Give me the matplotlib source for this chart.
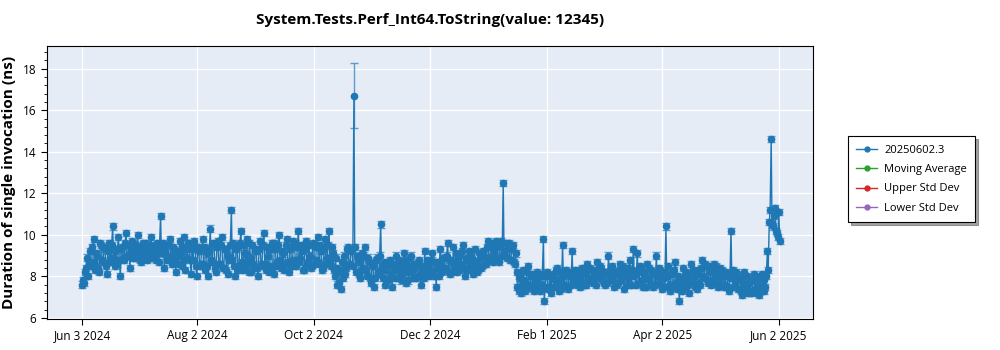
import numpy as np
import pandas as pd
import matplotlib
matplotlib.use("Agg")
from matplotlib import pyplot as plt
from matplotlib.lines import Line2D
from matplotlib.ticker import AutoMinorLocator

plt.rcParams['font.family'] = ['Open Sans', 'DejaVu Sans']

# two runs per day, Jun 3 2024 .. Jun 2 2025 (one row = one week)
run_a = [
    7.6, 7.7, 8.4, 8.0, 9.2, 8.6, 9.8,
    8.3, 9.0, 8.2, 9.5, 8.7, 9.3, 8.1,
    9.6, 8.9, 10.4, 9.2, 8.6, 9.9, 8.0,
    9.4, 8.8, 10.1, 9.0, 8.4, 9.7, 9.1,
    8.9, 10.0, 9.3, 8.7, 9.6, 9.1, 8.8,
    9.4, 9.9, 8.9, 9.2, 9.6, 8.7, 10.9,
    9.1, 8.4, 9.5, 8.9, 9.8, 8.6, 9.3,
    8.2, 9.0, 9.7, 8.5, 9.9, 8.3, 8.9,
    9.6, 8.1, 8.8, 9.4, 8.0, 9.2, 8.6,
    9.8, 8.3, 9.1, 8.0, 10.3, 8.7, 9.5,
    8.2, 9.7, 8.6, 9.9, 8.4, 9.3, 8.1,
    8.8, 11.2, 9.6, 8.0, 9.4, 8.5, 10.2,
    8.3, 9.1, 9.8, 8.2, 8.9, 9.5, 8.4,
    9.2, 8.0, 9.7, 8.6, 10.1, 8.3, 9.0,
    8.5, 9.6, 8.1, 9.3, 8.7, 10.0, 8.4,
    9.1, 8.6, 9.8, 8.2, 9.4, 8.8, 9.6,
    8.5, 10.2, 8.9, 9.2, 8.3, 9.7, 8.7,
    9.0, 8.5, 9.5, 8.8, 9.9, 8.6, 9.2,
    8.4, 9.8, 8.9, 10.2, 8.5, 9.1, 8.0,
    7.6, 8.3, 7.4, 8.7, 9.0, 8.4, 9.4,
    8.6, 9.3, 16.7, 8.2, 8.8, 7.9, 9.1,
    8.4, 9.4, 8.0, 8.7, 7.7, 8.5, 7.9,
    8.9, 8.1, 10.5, 8.6, 7.6, 8.3, 7.8,
    8.8, 7.5, 8.4, 9.0, 7.9, 8.6, 8.1,
    9.1, 7.7, 8.5, 8.2, 9.0, 7.9, 8.4,
    8.0, 8.8, 7.6, 8.5, 9.2, 8.1, 8.6,
    8.3, 9.1, 8.0, 7.5, 8.7, 9.3, 8.2,
    8.9, 8.4, 9.6, 8.1, 8.7, 9.4, 8.5,
    8.2, 9.0, 8.6, 9.5, 8.0, 8.8, 9.2,
    8.4, 8.1, 9.3, 8.7, 8.3, 8.9, 8.5,
    9.0, 8.6, 9.7, 8.8, 9.6, 9.1, 8.9,
    9.4, 8.7, 9.7, 12.5, 9.0, 8.9, 9.6,
    8.8, 9.5, 8.6, 8.2, 7.3, 7.9, 7.6,
    7.8, 7.4, 8.5, 7.5, 8.1, 7.3, 7.7,
    7.4, 8.0, 7.6, 9.8, 7.5, 8.2, 7.5,
    7.2, 8.1, 7.8, 8.4, 7.3, 7.9, 9.5,
    7.6, 8.3, 7.4, 8.0, 9.2, 7.7, 8.2,
    7.9, 7.5, 8.4, 8.1, 7.6, 8.6, 7.8,
    8.3, 7.7, 8.0, 8.7, 7.9, 8.4, 8.1,
    7.6, 8.2, 9.0, 7.8, 8.5, 7.5, 8.1,
    7.7, 8.6, 8.0, 7.4, 8.3, 7.9, 8.8,
    7.6, 9.3, 8.2, 9.1, 7.7, 8.4, 7.5,
    8.0, 8.6, 7.8, 8.3, 7.5, 8.1, 9.0,
    7.7, 8.3, 7.4, 7.9, 10.4, 8.5, 7.3,
    8.2, 7.6, 8.7, 7.4, 6.8, 7.9, 8.4,
    7.5, 8.1, 7.2, 8.6, 7.7, 8.0, 7.4,
    8.3, 7.6, 8.8, 7.9, 8.5, 7.7, 8.2,
    7.8, 8.6, 8.0, 7.5, 8.4, 7.9, 8.2,
    7.6, 8.0, 7.3, 10.2, 8.3, 7.7, 8.1,
    7.4, 7.9, 7.1, 8.2, 7.5, 7.2, 7.8,
    7.3, 8.1, 7.2, 7.6, 8.0, 7.4, 7.8,
    7.5, 9.2, 10.6, 14.6, 10.4, 11.3, 10.1,
    11.1,
]
run_b = [
    7.8, 8.2, 8.9, 8.6, 8.5, 9.4, 8.7,
    9.1, 8.4, 9.6, 8.8, 9.4, 8.5, 9.2,
    8.7, 9.5, 8.9, 8.5, 9.3, 8.8, 9.3,
    8.9, 9.6, 9.0, 9.5, 9.3, 8.9, 9.5,
    9.5, 9.1, 8.8, 9.4, 9.0, 9.6, 9.2,
    8.9, 9.2, 9.5, 8.8, 9.1, 9.4, 9.2,
    9.6, 9.2, 8.8, 9.5, 9.0, 9.4, 8.9,
    9.2, 8.6, 9.1, 9.4, 8.8, 9.3, 9.6,
    8.8, 9.3, 9.7, 8.5, 9.4, 8.5, 9.3,
    8.6, 9.4, 8.5, 9.2, 8.8, 9.6, 8.4,
    9.4, 8.6, 9.5, 8.4, 9.3, 8.3, 9.0,
    9.5, 8.8, 8.5, 9.3, 8.3, 9.6, 8.7,
    9.5, 8.4, 8.7, 9.6, 8.2, 8.6, 9.3,
    8.4, 9.3, 8.5, 9.5, 8.6, 9.4, 8.2,
    9.3, 8.4, 9.6, 8.5, 9.5, 8.8, 9.2,
    8.3, 9.5, 8.7, 9.3, 8.5, 9.7, 8.6,
    9.4, 8.7, 9.5, 8.3, 9.3, 8.6, 9.5,
    8.4, 9.6, 8.6, 9.4, 8.7, 9.5, 8.3,
    9.3, 8.6, 9.5, 8.8, 9.4, 8.3, 8.9,
    8.4, 7.7, 8.2, 7.9, 8.1, 9.3, 8.6,
    9.2, 8.5, 9.4, 9.0, 8.1, 8.7, 8.3,
    9.0, 8.3, 8.9, 7.9, 8.6, 7.5, 8.8,
    8.2, 9.0, 8.4, 7.9, 8.7, 7.8, 8.6,
    8.1, 8.6, 7.9, 8.3, 8.8, 7.8, 8.5,
    8.2, 8.8, 7.8, 8.9, 8.3, 8.6, 7.9,
    8.7, 8.1, 8.4, 7.9, 8.3, 8.8, 8.0,
    8.8, 8.2, 8.7, 8.4, 8.0, 8.5, 8.9,
    8.3, 9.0, 8.2, 8.8, 8.2, 8.6, 9.1,
    8.9, 8.3, 9.2, 8.4, 8.9, 8.3, 8.6,
    9.0, 8.8, 8.5, 8.2, 9.1, 8.4, 9.2,
    8.6, 9.4, 8.9, 9.5, 8.7, 9.3, 9.7,
    8.8, 9.5, 9.0, 9.2, 9.6, 9.3, 8.8,
    9.3, 8.7, 9.1, 7.5, 8.0, 7.2, 8.3,
    7.3, 8.2, 7.6, 8.0, 7.4, 7.9, 8.2,
    7.9, 7.3, 8.1, 6.8, 8.0, 7.4, 8.0,
    7.9, 7.5, 8.3, 7.6, 8.2, 7.4, 8.0,
    8.1, 7.5, 8.2, 7.6, 7.9, 8.3, 7.6,
    8.3, 8.1, 7.7, 7.6, 8.2, 7.9, 8.4,
    7.8, 8.3, 7.6, 8.1, 8.5, 7.8, 7.7,
    8.2, 7.7, 8.1, 8.4, 7.8, 8.2, 7.6,
    8.3, 7.8, 8.5, 8.1, 7.6, 8.4, 8.0,
    8.3, 8.0, 7.6, 8.2, 8.5, 7.8, 8.2,
    7.5, 7.9, 8.4, 7.6, 8.2, 7.6, 8.0,
    8.4, 7.6, 8.2, 7.5, 8.0, 7.6, 8.1,
    7.5, 8.3, 7.7, 8.0, 7.6, 7.3, 7.8,
    8.2, 7.6, 7.9, 7.8, 8.3, 7.5, 8.1,
    7.7, 8.4, 8.0, 8.6, 7.8, 8.5, 7.6,
    8.4, 7.7, 8.5, 8.2, 7.6, 8.3, 7.5,
    8.2, 7.5, 7.9, 8.0, 7.5, 8.2, 7.4,
    7.9, 7.3, 7.7, 7.4, 8.0, 7.7, 7.2,
    7.8, 7.4, 7.9, 7.1, 7.5, 8.1, 7.3,
    8.0, 8.3, 11.2, 10.5, 10.9, 10.2, 9.9,
    9.7,
]
days = pd.date_range("2024-06-03", periods=len(run_a), freq="D")

err_default = 0.15
err_big = {"2024-10-23": 1.58}

# interleave the two runs of every day (second run ~10 h later)
dates, values, errors = [], [], []
for d, a, b in zip(days, run_a, run_b):
    e = err_big.get(d.strftime("%Y-%m-%d"), err_default)
    dates += [d, d + pd.Timedelta(hours=10)]
    values += [a, b]
    errors += [e if a > 15 else err_default, err_default]

tick_dates = pd.to_datetime(["2024-06-03", "2024-08-02", "2024-10-02", "2024-12-02",
                             "2025-02-01", "2025-04-02", "2025-06-02"])
tick_labels = ["Jun 3 2024", "Aug 2 2024", "Oct 2 2024", "Dec 2 2024",
               "Feb 1 2025", "Apr 2 2025", "Jun 2 2025"]

legend_names = ["20250602.3", "Moving Average", "Upper Std Dev", "Lower Std Dev"]
legend_colors = ["#1f77b4", "#2ca02c", "#d62728", "#9467bd"]

fig = plt.figure(figsize=(10, 3.5), dpi=100)
ax = fig.add_axes([0.047, 0.089, 0.766, 0.78])
ax.set_facecolor("#e5ecf6")

ax.errorbar(dates, values, yerr=errors, color="#1f77b4", ecolor="#5b9bd0",
            elinewidth=1, capsize=3, marker="o", markersize=4.5, linewidth=1)

ax.set_xlim(pd.Timestamp("2024-05-15 16:00"), pd.Timestamp("2025-06-19 20:00"))
ax.set_ylim(5.95, 19.1)
ax.set_xticks(tick_dates)
ax.set_xticklabels(tick_labels)
ax.yaxis.set_minor_locator(AutoMinorLocator(5))
ax.tick_params(labelsize=8.5, length=4)
ax.tick_params(which="minor", length=2.5)
ax.grid(True, color="white", linewidth=1)
ax.set_axisbelow(True)
for s in ax.spines.values():
    s.set_color("black")

ax.set_title("System.Tests.Perf_Int64.ToString(value: 12345)", fontsize=11,
             fontweight="bold", pad=16)
ax.set_ylabel("Duration of single invocation (ns)", fontsize=11, fontweight="bold",
              labelpad=5)

handles = [Line2D([], [], color=c, marker="o", markersize=3.5, linewidth=1)
           for c in legend_colors]
leg = fig.legend(handles, legend_names, loc="upper left", bbox_to_anchor=(0.848, 0.61),
                 borderaxespad=0, fontsize=8, frameon=True, fancybox=False,
                 shadow=True, edgecolor="black", handlelength=1.9, handletextpad=0.6,
                 labelspacing=0.75, borderpad=0.75)
leg.get_frame().set_linewidth(0.8)

fig.savefig("out.png", dpi=100)
